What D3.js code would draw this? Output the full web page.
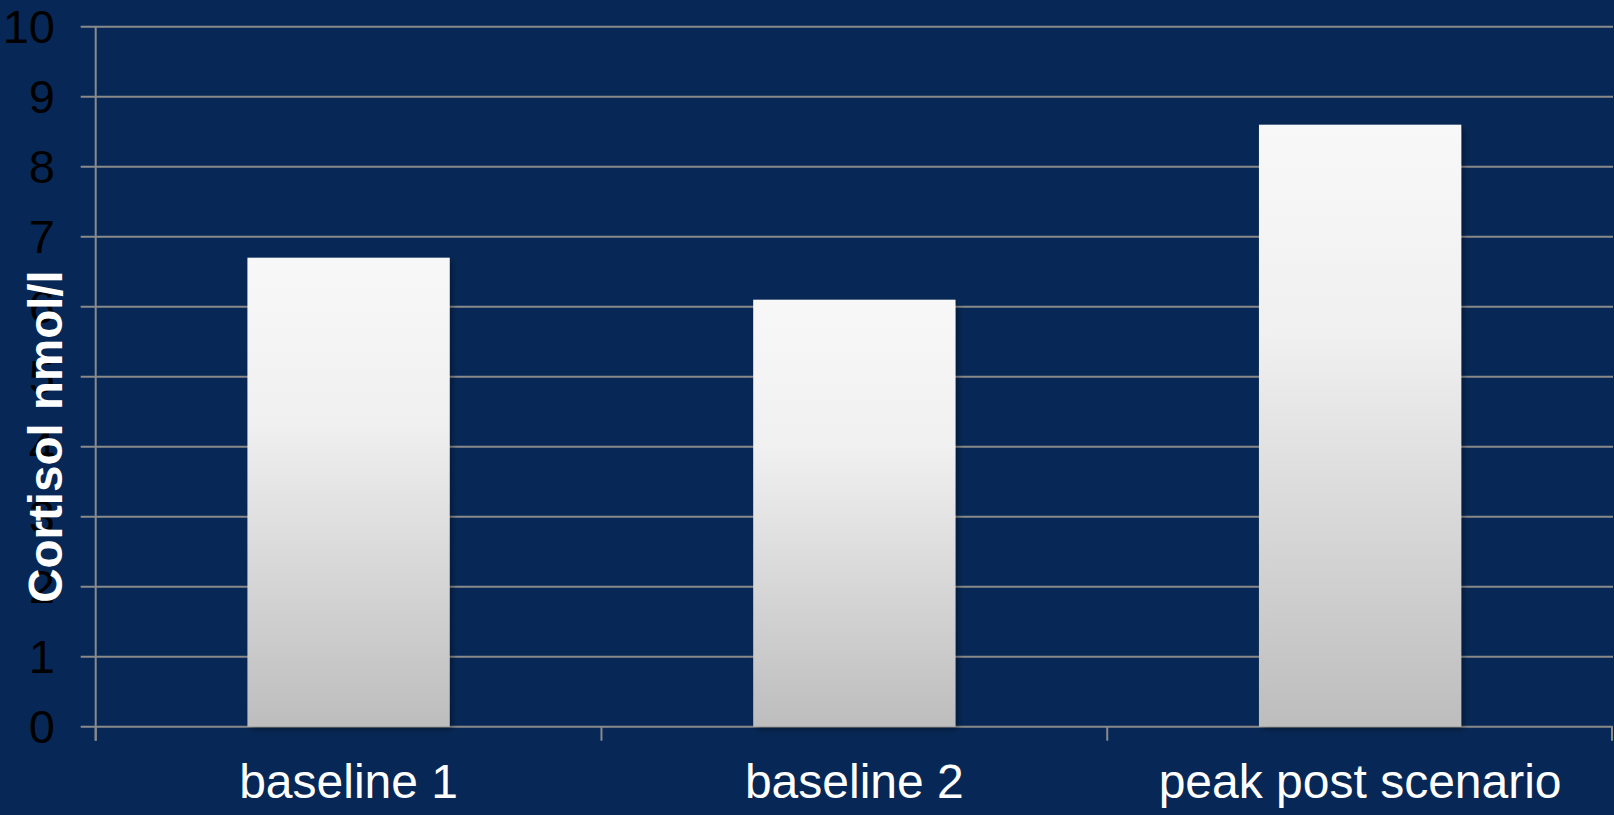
<!DOCTYPE html>
<html>
<head>
<meta charset="utf-8">
<script src="https://cdn.jsdelivr.net/npm/d3@7"></script>
<style>
  html, body { margin: 0; padding: 0; background: #072856; }
  svg { display: block; }
</style>
</head>
<body>
<script>
// Salivary cortisol at each sampling point
const categories = ["baseline 1", "baseline 2", "peak post scenario"];
const cortisol = [6.7, 6.1, 8.6];
const yTicks = [0, 1, 2, 3, 4, 5, 6, 7, 8, 9, 10];
const yTitle = "Cortisol nmol/l";

const W = 1614, H = 815;
const plot = { left: 95.7, right: 1613, top: 26.7, bottom: 726.7 };

const svg = d3.select("body").append("svg")
  .attr("width", W).attr("height", H);

svg.append("rect").attr("width", W).attr("height", H).attr("fill", "#072856");

const defs = svg.append("defs");
const grad = defs.append("linearGradient")
  .attr("id", "barFill").attr("x1", 0).attr("y1", 0).attr("x2", 0).attr("y2", 1);
grad.append("stop").attr("offset", "0%").attr("stop-color", "#f8f8f8");
grad.append("stop").attr("offset", "35%").attr("stop-color", "#f0f0f0");
grad.append("stop").attr("offset", "100%").attr("stop-color", "#bdbdbd");

const shadow = defs.append("filter").attr("id", "barShadow")
  .attr("x", "-10%").attr("y", "-10%").attr("width", "130%").attr("height", "130%");
shadow.append("feDropShadow")
  .attr("dx", 3).attr("dy", 3).attr("stdDeviation", 3)
  .attr("flood-color", "#000").attr("flood-opacity", 0.35);

const x = d3.scaleBand()
  .domain(categories)
  .range([plot.left, plot.right])
  .paddingInner(0.6)
  .paddingOuter(0.3);

const y = d3.scaleLinear()
  .domain([0, 10])
  .range([plot.bottom, plot.top]);

const gridColor = "#8a8a8a";

// horizontal gridlines
svg.append("g")
  .selectAll("line")
  .data(yTicks)
  .join("line")
  .attr("x1", plot.left - 15)
  .attr("x2", plot.right)
  .attr("y1", d => y(d))
  .attr("y2", d => y(d))
  .attr("stroke", gridColor)
  .attr("stroke-width", 2);

// left axis line
svg.append("line")
  .attr("x1", plot.left).attr("x2", plot.left)
  .attr("y1", plot.top).attr("y2", plot.bottom + 14)
  .attr("stroke", gridColor).attr("stroke-width", 2);

// category boundary ticks below the baseline
const step = x.step();
const boundaries = d3.range(categories.length + 1).map(i =>
  i === 0 ? plot.left : (i === categories.length ? plot.right - 1 : x(categories[i]) - x.paddingInner() * step / 2));
svg.append("g")
  .selectAll("line")
  .data(boundaries)
  .join("line")
  .attr("x1", d => d).attr("x2", d => d)
  .attr("y1", plot.bottom).attr("y2", plot.bottom + 14)
  .attr("stroke", gridColor).attr("stroke-width", 2);

// bars
svg.append("g")
  .selectAll("rect")
  .data(cortisol)
  .join("rect")
  .attr("x", (d, i) => x(categories[i]))
  .attr("y", d => y(d))
  .attr("width", x.bandwidth())
  .attr("height", d => y(0) - y(d))
  .attr("fill", "url(#barFill)")
  .attr("filter", "url(#barShadow)");

// y tick labels
svg.append("g")
  .selectAll("text")
  .data(yTicks)
  .join("text")
  .attr("x", 55)
  .attr("y", d => y(d))
  .attr("dy", "0.35em")
  .attr("text-anchor", "end")
  .attr("font-family", "'Liberation Sans', Arial, sans-serif")
  .attr("font-size", 47)
  .attr("fill", "#000")
  .text(d => d);

// category labels
svg.append("g")
  .selectAll("text")
  .data(categories)
  .join("text")
  .attr("x", d => x(d) + x.bandwidth() / 2)
  .attr("y", 798)
  .attr("text-anchor", "middle")
  .attr("font-family", "'Liberation Sans', Arial, sans-serif")
  .attr("font-size", 48)
  .attr("fill", "#ffffff")
  .text(d => d);

// y axis title
svg.append("text")
  .attr("transform", "translate(62," + 436.5 + ") rotate(-90)")
  .attr("text-anchor", "middle")
  .attr("font-family", "'Liberation Sans', Arial, sans-serif")
  .attr("font-weight", "bold")
  .attr("font-size", 47.5)
  .attr("fill", "#ffffff")
  .text(yTitle);
</script>
</body>
</html>
